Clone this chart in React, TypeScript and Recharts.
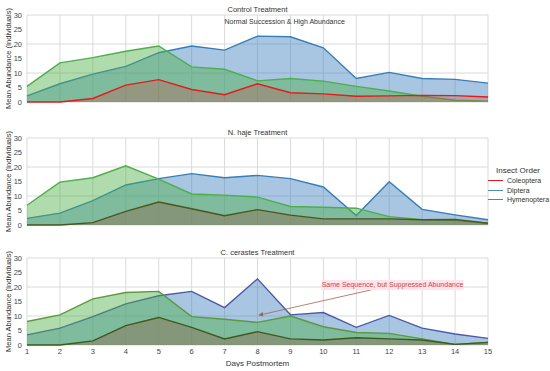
import { AreaChart, Area, XAxis, YAxis, CartesianGrid, Legend, ReferenceDot, ReferenceLine } from "recharts";

const days = [1, 2, 3, 4, 5, 6, 7, 8, 9, 10, 11, 12, 13, 14, 15];
const yTicks = [0, 5, 10, 15, 20, 25, 30];
const orders = ["Coleoptera", "Diptera", "Hymenoptera"];
const legendColors = ["#e41a1c", "#4a8fc2", "#6b8e3a"];

// Control
const controlColeoptera = [0, 0, 1.2, 5.8, 7.7, 4.3, 2.5, 6.3, 3.2, 2.8, 2.0, 2.1, 2.3, 2.2, 1.7];
const controlDiptera = [2.1, 6.3, 9.6, 12.3, 17.0, 19.3, 17.9, 22.7, 22.5, 18.7, 8.1, 10.2, 8.1, 7.8, 6.5];
const controlHymenoptera = [5.4, 13.5, 15.3, 17.5, 19.3, 12.1, 11.3, 7.3, 8.1, 7.2, 5.4, 3.8, 2.0, 0.6, 0.3];

// N. haje
const hajeColeoptera = [0, 0, 0.8, 4.7, 7.9, 5.6, 3.2, 5.3, 3.4, 2.1, 2.1, 2.1, 1.8, 1.9, 0.6];
const hajeDiptera = [2.3, 4.1, 8.4, 13.8, 16.0, 17.7, 16.3, 17.1, 16.0, 13.1, 3.3, 14.9, 5.4, 3.5, 1.8];
const hajeHymenoptera = [6.8, 14.8, 16.3, 20.4, 15.8, 10.7, 10.3, 9.6, 6.4, 6.1, 5.8, 2.9, 1.8, 1.5, 0.6];

// C. cerastes
const cerastesColeoptera = [0, 0, 1.4, 6.7, 9.5, 6.1, 2.1, 4.6, 2.1, 1.7, 2.5, 2.1, 1.7, 0.2, 0.9];
const cerastesDiptera = [3.5, 5.8, 9.8, 14.2, 17.0, 18.5, 12.9, 22.8, 10.4, 11.2, 6.1, 10.2, 5.8, 3.8, 2.3];
const cerastesHymenoptera = [8.1, 10.4, 15.9, 18.1, 18.5, 9.8, 8.9, 7.8, 10.0, 6.3, 4.3, 4.0, 2.1, 0.2, 0.9];

const FONT = '"Liberation Sans", Arial, sans-serif';

const buildRows = (col: number[], dip: number[], hym: number[]) =>
  days.map((d, i) => ({ day: d, Coleoptera: col[i], Diptera: dip[i], Hymenoptera: hym[i] }));

const YLabel = (props: any) => {
  const { x, y, height } = props.viewBox;
  const cx = x + 8.5;
  const cy = y + height / 2;
  return (
    <text x={cx} y={cy} transform={`rotate(-90 ${cx} ${cy})`} textAnchor="middle" dominantBaseline="central" fontSize={7.5} fill="#333">
      Mean Abundance (Individuals)
    </text>
  );
};

const renderLegend = () => (
  <div style={{ fontFamily: FONT, color: "#333" }}>
    <div style={{ fontSize: 8, lineHeight: "10px", marginLeft: 8 }}>Insect Order</div>
    {orders.map((o, i) => (
      <div key={o} style={{ display: "flex", alignItems: "center", height: 9.5, fontSize: 7 }}>
        <span style={{ display: "inline-block", width: 15, height: 1.2, background: legendColors[i], marginRight: 4 }} />
        {o}
      </div>
    ))}
  </div>
);

const renderNote = (props: any) => {
  const { x, y } = props.viewBox;
  return (
    <g>
      <rect x={x - 71} y={y - 5} width={142} height={10} fill="#ffe4ec" />
      <text x={x} y={y} textAnchor="middle" dominantBaseline="central" fontSize={7} fill="#d0453c">
        Same Sequence, but Suppressed Abundance
      </text>
    </g>
  );
};

type PanelProps = {
  rows: any[];
  title: string;
  top: number;
  colors: { col: string; colFill: string; colOp: number; dip: string; hym: string };
  showX?: boolean;
  children?: any;
};

const Panel = ({ rows, title, top, colors, showX, children }: PanelProps) => (
  <div style={{ position: "absolute", left: 0, top }}>
    <AreaChart width={550} height={showX ? 124 : 110} data={rows} margin={{ top: 15, right: 62, bottom: showX ? 0 : 8, left: 0 }}>
      <defs>
        <marker id="arrowHead" markerWidth="6" markerHeight="6" refX="5" refY="3" orient="auto">
          <path d="M0,0 L6,3 L0,6 z" fill="#a0654a" />
        </marker>
      </defs>
      <CartesianGrid stroke="#dadada" />
      <XAxis
        dataKey="day"
        type="number"
        domain={[1, 15]}
        ticks={days}
        hide={!showX}
        height={22}
        tickLine={false}
        axisLine={false}
        tickSize={0}
        tickMargin={4}
        tick={{ fontSize: 7.5, fill: "#444" }}
        label={{ value: "Days Postmortem", position: "insideBottom", offset: 1, fontSize: 8, fill: "#333" }}
      />
      <YAxis
        type="number"
        domain={[0, 30]}
        ticks={yTicks}
        width={27}
        tickLine={false}
        axisLine={false}
        tickSize={0}
        tickMargin={5}
        tick={{ fontSize: 7.5, fill: "#444" }}
        label={{ content: YLabel }}
      />
      <Area dataKey="Diptera" type="linear" stroke={colors.dip} strokeWidth={1.4} fill="#3f7fbf" fillOpacity={0.45} isAnimationActive={false} />
      <Area dataKey="Hymenoptera" type="linear" stroke={colors.hym} strokeWidth={1.4} fill="#4daf4a" fillOpacity={0.45} isAnimationActive={false} />
      <Area dataKey="Coleoptera" type="linear" stroke={colors.col} strokeWidth={1.4} fill={colors.colFill} fillOpacity={colors.colOp} isAnimationActive={false} />
      <ReferenceDot x={8} y={30} r={0} stroke="none" label={{ value: title, position: "top", offset: 3, fontSize: 7.5, fill: "#333" }} />
      {children}
    </AreaChart>
  </div>
);

const App = () => (
  <div style={{ position: "absolute", left: 0, top: 0, width: 550, height: 371, background: "#fff", fontFamily: FONT }}>
    <Panel
      rows={buildRows(controlColeoptera, controlDiptera, controlHymenoptera)}
      title="Control Treatment"
      top={0}
      colors={{ col: "#e41a1c", colFill: "#d9302c", colOp: 0.25, dip: "#377eb8", hym: "#4daf4a" }}
    >
      <ReferenceDot x={7} y={27.6} r={0} stroke="none" label={{ value: "Normal Succession & High Abundance", position: "right", offset: 0, fontSize: 7, fill: "#333" }} />
    </Panel>
    <Panel
      rows={buildRows(hajeColeoptera, hajeDiptera, hajeHymenoptera)}
      title="N. haje Treatment"
      top={122.5}
      colors={{ col: "#4a561e", colFill: "#8c6d4f", colOp: 0.45, dip: "#377eb8", hym: "#4daf4a" }}
    >
      <Legend
        layout="horizontal"
        align="center"
        verticalAlign="middle"
        content={renderLegend}
        wrapperStyle={{ left: 488, top: 43.5, width: 62, height: 40 }}
      />
    </Panel>
    <Panel
      rows={buildRows(cerastesColeoptera, cerastesDiptera, cerastesHymenoptera)}
      title="C. cerastes Treatment"
      top={243.3}
      colors={{ col: "#3d5a1a", colFill: "#8c6d4f", colOp: 0.45, dip: "#4a5aa8", hym: "#5a9a3a" }}
      showX
    >
      <ReferenceLine
        segment={[{ x: 11.45, y: 19 }, { x: 8.05, y: 10.3 }]}
        stroke="#a0654a"
        strokeWidth={0.8}
        markerEnd="url(#arrowHead)"
        ifOverflow="visible"
      />
      <ReferenceDot x={12.1} y={20.7} r={0} stroke="none" label={renderNote} />
    </Panel>
  </div>
);

export default App;
